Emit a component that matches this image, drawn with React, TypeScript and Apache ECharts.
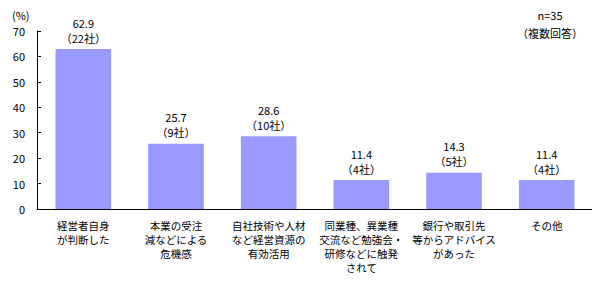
import React, { useEffect, useRef } from "react";
import * as echarts from "echarts";

const categories = [
  "経営者自身\nが判断した",
  "本業の受注\n減などによる\n危機感",
  "自社技術や人材\nなど経営資源の\n有効活用",
  "同業種、異業種\n交流など勉強会・\n研修などに触発\nされて",
  "銀行や取引先\n等からアドバイス\nがあった",
  "その他",
];
const values = [62.9, 25.7, 28.6, 11.4, 14.3, 11.4];
const companies = [22, 9, 10, 4, 5, 4];
const yTicks = [0, 10, 20, 30, 40, 50, 60, 70];

const FONT = "'Noto Sans CJK JP', sans-serif";

export default function App() {
  const ref = useRef<HTMLDivElement>(null);
  useEffect(() => {
    const chart = echarts.init(ref.current!, null, { renderer: "svg" });
    chart.setOption({
      animation: false,
      backgroundColor: "#ffffff",
      textStyle: { fontFamily: FONT },
      grid: { left: 37, right: 7, top: 31, bottom: 73 },
      graphic: [
        { type: "text", left: 12, top: 9, style: { text: "(%)", fontSize: 11, fontFamily: FONT, fill: "#000" } },
        {
          type: "text",
          x: 550,
          y: 6,
          style: {
            text: "n=35\n（複数回答）",
            fontSize: 11,
            lineHeight: 18,
            align: "center",
            fontFamily: FONT,
            fill: "#000",
          },
        },
      ],
      xAxis: {
        type: "category",
        data: categories,
        axisLine: { lineStyle: { color: "#000", width: 1 } },
        axisTick: { inside: true, length: 4, lineStyle: { color: "#000" } },
        axisLabel: {
          interval: 0,
          color: "#000",
          fontSize: 10.5,
          lineHeight: 14,
          margin: 9,
          fontFamily: FONT,
        },
      },
      yAxis: {
        type: "value",
        min: 0,
        max: 70,
        interval: 10,
        splitLine: { show: false },
        axisLine: { show: true, lineStyle: { color: "#000" } },
        axisTick: { show: true, inside: true, length: 4, lineStyle: { color: "#000" } },
        axisLabel: {
          color: "#000",
          fontSize: 11,
          margin: 12,
          fontFamily: FONT,
          formatter: (v: number) => (yTicks.includes(v) ? String(v) : ""),
        },
      },
      series: [
        {
          type: "bar",
          data: values,
          barCategoryGap: "40%",
          itemStyle: { color: "#9999FF" },
          label: {
            show: true,
            position: "top",
            distance: 4,
            color: "#000",
            fontSize: 11,
            lineHeight: 15,
            fontFamily: FONT,
            formatter: (p: any) => `${p.value.toFixed(1)}\n（${companies[p.dataIndex]}社）`,
          },
        },
      ],
    });
    return () => chart.dispose();
  }, []);
  return <div ref={ref} style={{ width: 600, height: 282, margin: -8 }} />;
}
